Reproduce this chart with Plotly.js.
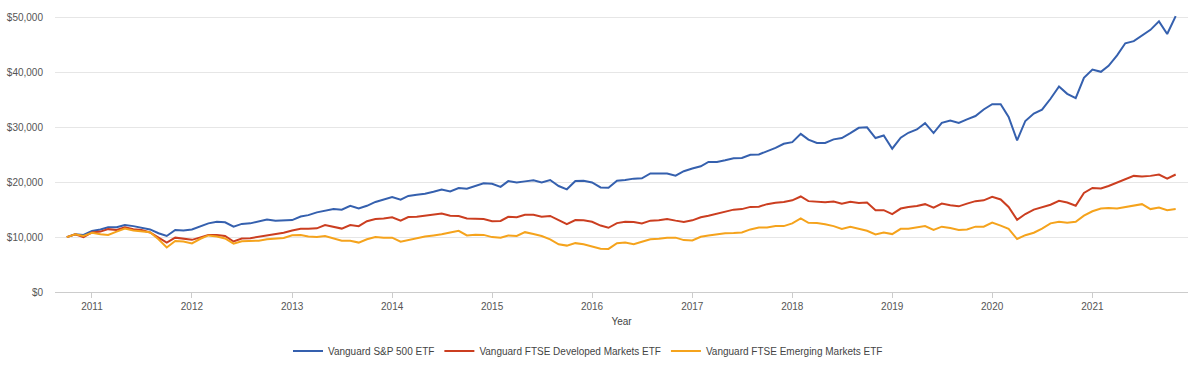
<!DOCTYPE html>
<html>
<head>
<meta charset="utf-8">
<script src="https://cdn.plot.ly/plotly-3.0.1.min.js"></script>
<style>
  html, body { margin: 0; padding: 0; background: #fff; }
  #chart { width: 1200px; height: 369px; }
</style>
</head>
<body>
<div id="chart"></div>
<script>
// Monthly portfolio values (in thousands of US$), starting October 2010
const startYear = 2010;
const startMonth = 10;

const seriesNames = [
  "Vanguard S&P 500 ETF",
  "Vanguard FTSE Developed Markets ETF",
  "Vanguard FTSE Emerging Markets ETF"
];

const sp500 = [
  10.0, 10.5, 10.4,
  11.1, 11.4, 11.8, 11.8, 12.2, 12.0, 11.7, 11.4, 10.7, 10.2, 11.3, 11.2,
  11.4, 11.9, 12.5, 12.8, 12.7, 11.9, 12.4, 12.5, 12.85, 13.2, 13.0, 13.05,
  13.1, 13.75, 14.0, 14.5, 14.8, 15.1, 15.0, 15.7, 15.2, 15.7, 16.4, 16.9,
  17.3, 16.8, 17.5, 17.7, 17.9, 18.25, 18.65, 18.3, 18.95, 18.8, 19.3, 19.8,
  19.7, 19.15, 20.2, 19.95, 20.15, 20.35, 19.95, 20.4, 19.3, 18.7, 20.2, 20.25,
  19.95, 19.05, 19.0, 20.25, 20.4, 20.65, 20.7, 21.6, 21.6, 21.6, 21.2, 22.0,
  22.5, 22.9, 23.7, 23.7, 24.0, 24.35, 24.4, 25.0, 25.05, 25.6, 26.25, 27.0,
  27.3, 28.8, 27.75, 27.15, 27.15, 27.8, 28.05, 28.95, 29.9, 30.0, 28.05, 28.5,
  26.1, 28.1, 29.0, 29.6, 30.75, 28.95, 30.8, 31.25, 30.8, 31.45, 32.05, 33.25,
  34.2, 34.2, 31.9, 27.6, 31.15, 32.5, 33.2, 35.2, 37.45, 36.1, 35.3, 39.0,
  40.5, 40.1, 41.2, 43.1, 45.3, 45.7, 46.7, 47.75, 49.3, 47.0, 50.25
];

const developed = [
  10.0, 10.5, 10.0,
  10.85, 11.0, 11.45, 11.3, 11.8, 11.45, 11.3, 10.85, 9.95, 9.0, 9.9, 9.7,
  9.5, 9.95, 10.4, 10.4, 10.2, 9.2, 9.75, 9.8, 10.05, 10.35, 10.5, 10.8,
  11.2, 11.5, 11.5, 11.6, 12.2, 11.9, 11.55, 12.2, 12.0, 12.9, 13.3, 13.4,
  13.6, 13.0, 13.65, 13.7, 13.9, 14.15, 14.3, 13.9, 13.85, 13.4, 13.35, 13.3,
  12.9, 12.95, 13.7, 13.6, 14.05, 14.05, 13.7, 13.85, 13.1, 12.35, 13.1, 13.05,
  12.8, 12.1, 11.7, 12.55, 12.8, 12.75, 12.5, 13.0, 13.05, 13.3, 13.0, 12.75,
  13.05, 13.6, 13.9, 14.3, 14.6, 15.0, 15.1, 15.5, 15.55, 16.0, 16.25, 16.4,
  16.7, 17.4, 16.55, 16.45, 16.35, 16.5, 16.1, 16.45, 16.2, 16.3, 14.9, 14.9,
  14.2, 15.2, 15.5, 15.65, 16.0, 15.35, 16.1, 15.8, 15.6, 16.1, 16.55, 16.7,
  17.35, 16.85, 15.5, 13.15, 14.2, 15.0, 15.5, 15.9, 16.6, 16.3, 15.7, 18.05,
  18.95, 18.85, 19.3, 19.9, 20.5, 21.15, 21.05, 21.15, 21.4, 20.65, 21.4
];

const emerging = [
  10.0, 10.5, 10.2,
  10.8, 10.5, 10.4, 11.0, 11.55, 11.2, 11.1, 10.9, 9.6, 8.1, 9.3, 9.2,
  8.85, 9.7, 10.3, 10.1, 9.75, 8.8, 9.25, 9.3, 9.35, 9.6, 9.7, 9.85,
  10.35, 10.4, 10.1, 10.0, 10.2, 9.7, 9.35, 9.35, 9.0, 9.6, 10.0, 9.9,
  9.9, 9.15, 9.45, 9.9, 10.1, 10.3, 10.5, 10.85, 11.15, 10.3, 10.45, 10.4,
  10.0, 9.9, 10.3, 10.2, 10.9, 10.55, 10.2, 9.6, 8.7, 8.45, 8.9, 8.7,
  8.3, 7.9, 7.85, 8.9, 9.0, 8.7, 9.15, 9.6, 9.7, 9.9, 9.9, 9.45,
  9.4, 10.05, 10.3, 10.55, 10.7, 10.75, 10.85, 11.4, 11.75, 11.75, 12.0, 12.0,
  12.5, 13.4, 12.6, 12.55, 12.35, 12.0, 11.5, 11.9, 11.45, 11.15, 10.5, 10.85,
  10.55, 11.5, 11.5, 11.75, 12.0, 11.3, 11.9, 11.65, 11.3, 11.4, 11.9, 11.9,
  12.65, 12.1, 11.5, 9.65, 10.35, 10.8, 11.55, 12.5, 12.8, 12.6, 12.8, 13.9,
  14.7, 15.2, 15.3, 15.2, 15.5, 15.75, 16.0, 15.1, 15.4, 14.9, 15.1
];

const yTickVals = [0, 10000, 20000, 30000, 40000, 50000];
const yTickText = ["$0", "$10,000", "$20,000", "$30,000", "$40,000", "$50,000"];
const xTickVals = ["2011-01-01","2012-01-01","2013-01-01","2014-01-01","2015-01-01","2016-01-01","2017-01-01","2018-01-01","2019-01-01","2020-01-01","2021-01-01"];
const xTickText = ["2011","2012","2013","2014","2015","2016","2017","2018","2019","2020","2021"];

const colors = ["#3560ae", "#cb3e20", "#f5a31c"];

// monthly dates for the x axis
function monthDates(n) {
  const out = [];
  for (let i = 0; i < n; i++) {
    const m0 = startMonth - 1 + i;
    const y = startYear + Math.floor(m0 / 12);
    const m = (m0 % 12) + 1;
    out.push(y + "-" + String(m).padStart(2, "0") + "-01");
  }
  return out;
}

const allSeries = [sp500, developed, emerging];
const traces = allSeries.map((s, i) => ({
  type: "scatter",
  mode: "lines",
  name: seriesNames[i],
  x: monthDates(s.length),
  y: s.map(v => v * 1000),
  line: { color: colors[i], width: 2 },
  hovertemplate: "%{y:$,.0f}<extra>" + seriesNames[i] + "</extra>"
}));

const layout = {
  width: 1200,
  height: 369,
  margin: { l: 55, r: 12, t: 11.5, b: 77, autoexpand: false },
  paper_bgcolor: "#ffffff",
  plot_bgcolor: "#ffffff",
  font: { family: "Liberation Sans, Arial, sans-serif", size: 10, color: "#555555" },
  showlegend: true,
  legend: {
    orientation: "h",
    xref: "container",
    yref: "container",
    x: 0.49, xanchor: "center",
    y: 0.049, yanchor: "middle",
    font: { size: 10, color: "#444444" },
    itemwidth: 30,
    tracegroupgap: 0
  },
  xaxis: {
    type: "date",
    range: ["2010-08-19", "2021-12-16"],
    tickmode: "array",
    tickvals: xTickVals,
    ticktext: xTickText,
    showgrid: false,
    showline: true,
    linecolor: "#cccccc",
    linewidth: 1,
    ticks: "outside",
    ticklen: 5,
    tickcolor: "#cccccc",
    tickfont: { size: 10, color: "#555555" },
    title: { text: "Year", font: { size: 10, color: "#444444" }, standoff: 6 },
    automargin: false,
    zeroline: false
  },
  yaxis: {
    range: [0, 51000],
    tickmode: "array",
    tickvals: yTickVals,
    ticktext: yTickText,
    showgrid: true,
    gridcolor: "#e6e6e6",
    gridwidth: 1,
    zeroline: false,
    showline: false,
    ticks: "",
    ticklabelstandoff: 11,
    automargin: false,
    tickfont: { size: 10, color: "#555555" }
  }
};

Plotly.newPlot("chart", traces, layout, { displayModeBar: false, staticPlot: true });
</script>
</body>
</html>
